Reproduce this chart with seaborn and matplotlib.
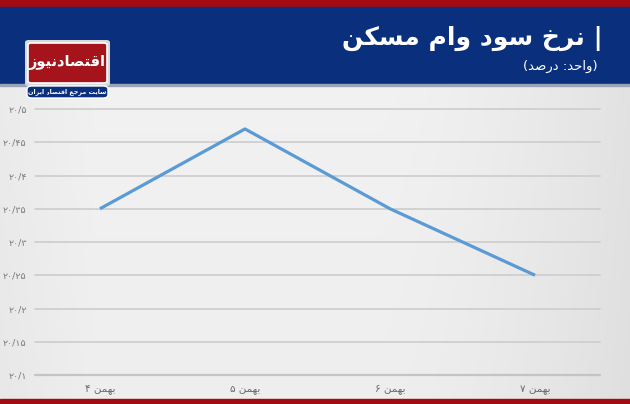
import numpy as np
import pandas as pd
import matplotlib
matplotlib.use("Agg")
import matplotlib.pyplot as plt
from matplotlib.patches import Rectangle, FancyBboxPatch
import seaborn as sns

# ---------------- data ----------------
categories = ["۴ بهمن", "۵ بهمن", "۶ بهمن", "۷ بهمن"]
values = [20.35, 20.47, 20.35, 20.25]
y_ticks = [20.1, 20.15, 20.2, 20.25, 20.3, 20.35, 20.4, 20.45, 20.5]
y_tick_labels = ["۲۰/۱", "۲۰/۱۵", "۲۰/۲", "۲۰/۲۵", "۲۰/۳", "۲۰/۳۵", "۲۰/۴", "۲۰/۴۵", "۲۰/۵"]
title_text = "| نرخ سود وام مسکن"
subtitle_text = "(واحد: درصد)"
logo_text = "اقتصادنیوز"
logo_sub = "سایت مرجع اقتصاد ایران"

# ---------------- minimal Arabic/Persian shaping ----------------
FORMS = {  # isolated, final, initial, medial (None for right-joining)
    "ا": ("\uFE8D", "\uFE8E", None, None),
    "ب": ("\uFE8F", "\uFE90", "\uFE91", "\uFE92"),
    "ت": ("\uFE95", "\uFE96", "\uFE97", "\uFE98"),
    "ج": ("\uFE9D", "\uFE9E", "\uFE9F", "\uFEA0"),
    "ح": ("\uFEA1", "\uFEA2", "\uFEA3", "\uFEA4"),
    "خ": ("\uFEA5", "\uFEA6", "\uFEA7", "\uFEA8"),
    "د": ("\uFEA9", "\uFEAA", None, None),
    "ر": ("\uFEAD", "\uFEAE", None, None),
    "ز": ("\uFEAF", "\uFEB0", None, None),
    "س": ("\uFEB1", "\uFEB2", "\uFEB3", "\uFEB4"),
    "ص": ("\uFEB9", "\uFEBA", "\uFEBB", "\uFEBC"),
    "ع": ("\uFEC9", "\uFECA", "\uFECB", "\uFECC"),
    "ق": ("\uFED5", "\uFED6", "\uFED7", "\uFED8"),
    "م": ("\uFEE1", "\uFEE2", "\uFEE3", "\uFEE4"),
    "ن": ("\uFEE5", "\uFEE6", "\uFEE7", "\uFEE8"),
    "ه": ("\uFEE9", "\uFEEA", "\uFEEB", "\uFEEC"),
    "و": ("\uFEED", "\uFEEE", None, None),
    "ی": ("\uFBFC", "\uFBFD", "\uFBFE", "\uFBFF"),
    "ک": ("\uFB8E", "\uFB8F", "\uFB90", "\uFB91"),
}


def shape(s):
    out = []
    for i, ch in enumerate(s):
        if ch not in FORMS:
            out.append(ch)
            continue
        f = FORMS[ch]
        prev = s[i - 1] if i > 0 else None
        nxt = s[i + 1] if i + 1 < len(s) else None
        before = prev in FORMS and FORMS[prev][2] is not None
        after = f[2] is not None and nxt in FORMS
        if before and after:
            out.append(f[3])
        elif before:
            out.append(f[1])
        elif after:
            out.append(f[2])
        else:
            out.append(f[0])
    return "".join(out)


MIRROR = {"(": ")", ")": "("}


def rtl(s):
    return "".join(MIRROR.get(c, c) for c in shape(s)[::-1])


def xlabel(s):
    num, word = s.split(" ", 1)
    return num + " " + rtl(word)


# ---------------- figure ----------------
W, H = 630, 404
fig = plt.figure(figsize=(W / 100, H / 100), dpi=100)
sns.set_style("white")
plt.rcParams["font.family"] = ["DejaVu Sans"]

# background gradient
bg = fig.add_axes([0, 0, 1, 1], zorder=-10)
xs = np.linspace(0, 1, 400)
ys = np.linspace(0, 1, 200)
X, Y = np.meshgrid(xs, ys)
g = 0.95 - 0.06 * np.clip((X - 0.6) / 0.4, 0, 1) ** 1.5 - 0.025 * (1 - np.clip(X / 0.15, 0, 1)) - 0.015 * Y
img = np.dstack([g, g, g])
bg.imshow(img, extent=[0, 1, 0, 1], aspect="auto", origin="upper")
bg.set_axis_off()


def px_rect(x0, y0, x1, y1, **kw):
    fig.patches.append(Rectangle((x0 / W, 1 - y1 / H), (x1 - x0) / W, (y1 - y0) / H,
                                 transform=fig.transFigure, **kw))


# header bars
px_rect(0, 0, W, 7, color="#A20B12", zorder=1)
px_rect(0, 7, W, 84, color="#0A2F7C", zorder=1)
px_rect(0, 84, W, 86, color="#9aa3b8", zorder=1)
px_rect(0, 399, W, H, color="#A20B12", zorder=1)

# logo
fig.patches.append(FancyBboxPatch((25 / W, 1 - 86 / H), 85 / W, 46 / H,
                                  boxstyle="round,pad=0,rounding_size=0.006",
                                  transform=fig.transFigure, facecolor="#d9d9d9",
                                  edgecolor="none", zorder=2))
fig.patches.append(FancyBboxPatch((28 / W, 1 - 83 / H), 79 / W, 40 / H,
                                  boxstyle="round,pad=0,rounding_size=0.005",
                                  transform=fig.transFigure, facecolor="#A5141B",
                                  edgecolor="white", linewidth=1.2, zorder=3))
fig.text(67.5 / W, 1 - 62 / H, rtl(logo_text), color="white", fontsize=10.5,
         fontweight="bold", ha="center", va="center", zorder=4)
fig.patches.append(FancyBboxPatch((27 / W, 1 - 98 / H), 81 / W, 12 / H,
                                  boxstyle="round,pad=0,rounding_size=0.008",
                                  transform=fig.transFigure, facecolor="#0A2F7C",
                                  edgecolor="white", linewidth=1.0, zorder=3))
fig.text(67.5 / W, 1 - 92 / H, rtl(logo_sub), color="white", fontsize=4.6,
         fontweight="bold", ha="center", va="center", zorder=4)

# titles
fig.text(603 / W, 1 - 38 / H, rtl(title_text), color="white", fontsize=18,
         fontweight="bold", ha="right", va="center", zorder=4)
fig.text(598 / W, 1 - 66 / H, rtl(subtitle_text), color="white", fontsize=9.5,
         ha="right", va="center", zorder=4)

# main axes
ax_left, ax_right = 35, 600
ax_top, ax_bottom = 109, 375
ax = fig.add_axes([ax_left / W, 1 - ax_bottom / H, (ax_right - ax_left) / W, (ax_bottom - ax_top) / H])
ax.patch.set_alpha(0)

df = pd.DataFrame({"day": categories, "rate": values})
sns.lineplot(data=df, x="day", y="rate", ax=ax, color="#5B9BD5", linewidth=2.3,
             sort=False, zorder=5, solid_capstyle="butt")

ax.set_ylim(20.1, 20.5)
ax.set_xlim(-0.448, 3.448)
ax.set_yticks(y_ticks)
ax.set_yticklabels(y_tick_labels)
ax.set_xticks(range(len(categories)))
ax.set_xticklabels([xlabel(c) for c in categories])
ax.set_xlabel("")
ax.set_ylabel("")
for yv in y_ticks:
    ax.axhline(yv, color="#cfcfcf" if yv > y_ticks[0] else "#c4c4c4",
               linewidth=1.3 if yv > y_ticks[0] else 1.6, zorder=1, clip_on=False)
for s in ax.spines.values():
    s.set_visible(False)
ax.tick_params(axis="y", length=0, pad=6, labelsize=6.8, labelcolor="#7a7a7a")
ax.tick_params(axis="x", length=0, pad=7, labelsize=7.5, labelcolor="#6a6a6a")

fig.savefig("out.png", dpi=100)
